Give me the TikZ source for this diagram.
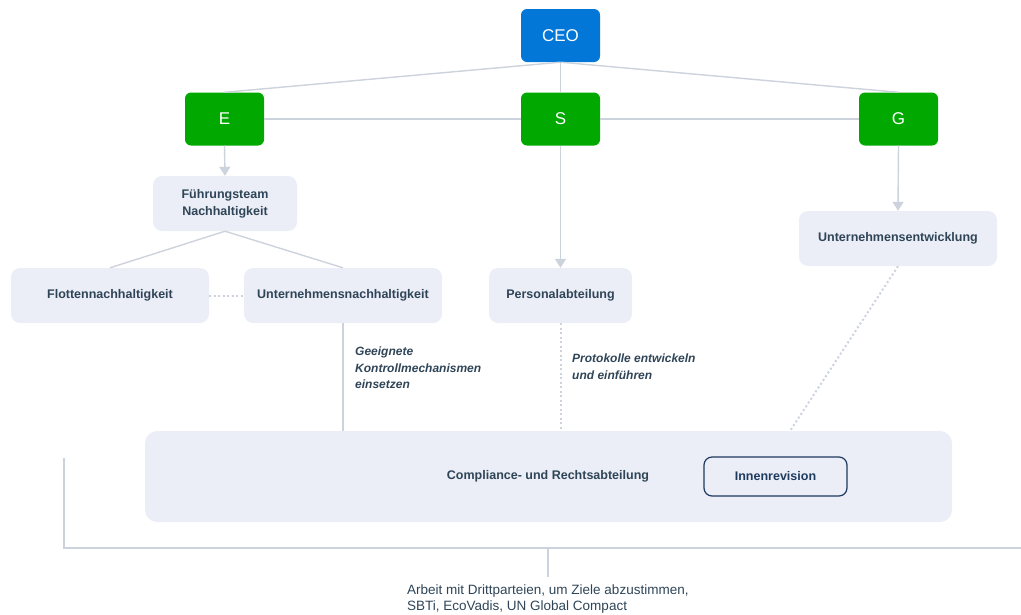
\documentclass[tikz,border=0pt]{standalone}
\usepackage{fontspec}
\setmainfont{Liberation Sans}
\usetikzlibrary{arrows.meta}
\definecolor{ceoblue}{HTML}{0277D8}
\definecolor{esggreen}{HTML}{00A800}
\definecolor{boxfill}{HTML}{EBEEF6}
\definecolor{txt}{HTML}{2F4557}
\definecolor{conncol}{HTML}{CDD3DC}
\definecolor{navy}{HTML}{1E3A5F}
\begin{document}
\begin{tikzpicture}[x=1pt,y=-1pt,
 topbox/.style={rounded corners=6pt, minimum width=79pt, minimum height=53pt, text=white, font=\fontsize{17}{19}\selectfont, inner sep=0pt},
 ceobox/.style={topbox, fill=ceoblue},
 pillar/.style={topbox, fill=esggreen},
 dept/.style={rounded corners=9pt, fill=boxfill, text=txt, font=\bfseries\fontsize{12.5}{17}\selectfont, align=center, inner sep=0pt, minimum height=55pt},
 conn/.style={draw=conncol, line width=1.4pt},
 arr/.style={conn, -{Triangle[width=11pt,length=9pt]}},
 dotline/.style={draw=conncol, line width=2pt, dash pattern=on 2pt off 2.5pt},
 lbl/.style={text=txt, font=\bfseries\itshape\fontsize{12}{16.5}\selectfont, align=left, inner sep=0pt},
]
\path[use as bounding box] (0,0) rectangle (1021,614);
\node[ceobox] (ceo) at (560.5,35.5) {CEO};
\node[pillar] (E) at (224.5,119) {E};
\node[pillar] (S) at (560.5,119) {S};
\node[pillar] (G) at (898.5,119) {G};
\node[dept, minimum width=144pt] (fuehr) at (225,203.5) {Führungsteam\\Nachhaltigkeit};
\node[dept, minimum width=198pt] (flotte) at (110,295.5) {Flottennachhaltigkeit};
\node[dept, minimum width=198pt] (unach) at (343,295.5) {Unternehmensnachhaltigkeit};
\node[dept, minimum width=143pt] (personal) at (560.5,295.5) {Personalabteilung};
\node[dept, minimum width=198pt] (uentw) at (898,238.5) {Unternehmensentwicklung};
\node[rounded corners=12pt, fill=boxfill, minimum width=807pt, minimum height=91pt, inner sep=0pt] (comp) at (548.5,476.5) {};
\node[text=txt, font=\bfseries\fontsize{12.5}{16}\selectfont, inner sep=0pt] (comptxt) at (548,476) {Compliance- und Rechtsabteilung};
\node[draw=navy, line width=1.2pt, rounded corners=8pt, minimum width=143pt, minimum height=39pt, inner sep=0pt, text=navy, font=\bfseries\fontsize{12.5}{16}\selectfont] (inner) at (775.5,476.5) {Innenrevision};

\draw[conn] (ceo.south) -- (E.north);
\draw[conn] (ceo.south) -- (G.north);
\draw[conn] (ceo.south) -- (S.north);
\draw[conn] (E.east) -- (S.west);
\draw[conn] (S.east) -- (G.west);
\draw[arr] (E.south) -- (fuehr.north);
\draw[arr] (S.south) -- (personal.north);
\draw[arr] (G.south) -- (uentw.north);
\draw[conn] (fuehr.south) -- (flotte.north);
\draw[conn] (fuehr.south) -- (unach.north);
\draw[dotline] (flotte.east) -- (unach.west);
\draw[conn] (unach.south) -- (unach.south |- comp.north);
\draw[dotline] (personal.south) -- (personal.south |- comp.north);
\coordinate (uend) at (790,431);
\draw[dotline] (uentw.south) -- (uend);

\node[lbl, anchor=north west] (l1) at (355,347) {Geeignete\\Kontrollmechanismen\\einsetzen};
\node[lbl, anchor=north west] (l2) at (572,354) {Protokolle entwickeln\\und einführen};

\coordinate (bl) at (64,458);
\coordinate (bc) at (64,548);
\coordinate (br) at (1021,548);
\coordinate (bm) at (548,548);
\coordinate (bmb) at (548,577);
\draw[conn] (bl) -- (bc) -- (br);
\draw[conn] (bm) -- (bmb);
\node[text=txt, font=\fontsize{13.5}{16}\selectfont, align=left, inner sep=0pt, anchor=north west] (bottom) at (407,585) {Arbeit mit Drittparteien, um Ziele abzustimmen,\\SBTi, EcoVadis, UN Global Compact};
\end{tikzpicture}
\end{document}
